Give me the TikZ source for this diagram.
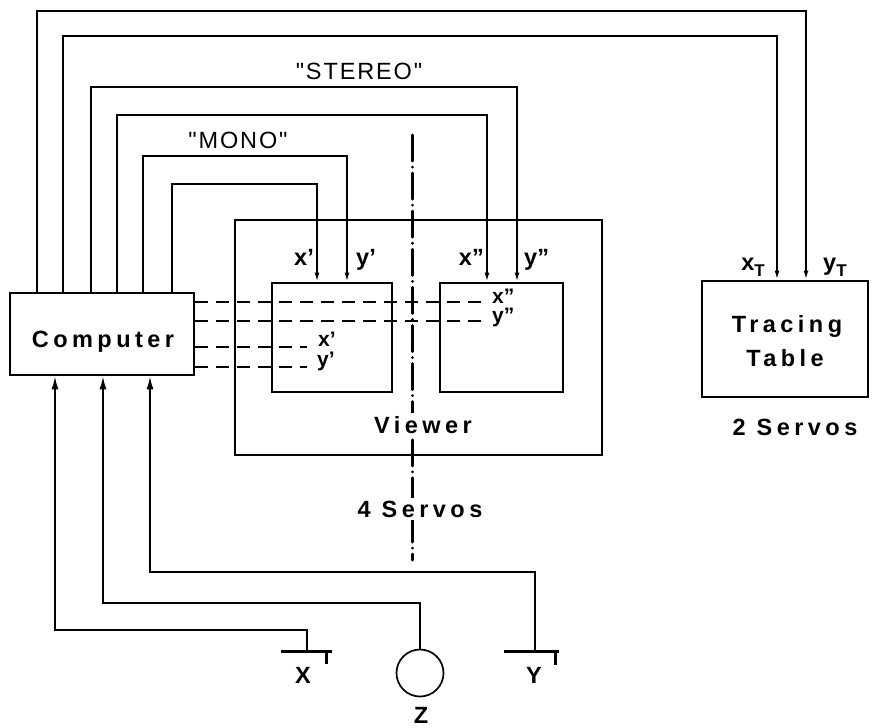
\documentclass[tikz,border=0pt]{standalone}
\usepackage{fontspec}
\setmainfont{Liberation Sans}
\newfontfamily\lblfont[LetterSpace=19]{Liberation Sans}
\newfontfamily\quofont[LetterSpace=8]{Liberation Sans}
\usetikzlibrary{arrows.meta}
\tikzset{
  box/.style={draw, line width=2.8pt, inner sep=0pt},
  conn/.style={line width=1.7pt},
  smallarrow/.style={-{Latex[length=9pt,width=5pt]}},
  bigarrow/.style={-{Latex[length=13pt,width=7pt]}},
  dashc/.style={line width=2pt, dash pattern=on 13pt off 8pt},
  biglbl/.style={font=\lblfont\bfseries\fontsize{23.5}{27}\selectfont, inner sep=0pt},
  smlbl/.style={font=\bfseries\fontsize{23.5}{27}\selectfont, inner sep=0pt},
  inlbl/.style={font=\bfseries\fontsize{21}{24}\selectfont, inner sep=0pt},
  quo/.style={font=\quofont\fontsize{23.5}{27}\selectfont, inner sep=0pt},
  centerline/.style={line width=3pt, line cap=round, dash pattern=on 26pt off 6pt on 0.1pt off 6pt},
  symb/.style={line width=3pt},
}
\newcommand{\subT}{\raisebox{-6pt}{\fontsize{17}{17}\selectfont T}}
\begin{document}
\begin{tikzpicture}[x=1pt,y=-1pt]
\useasboundingbox (0,0) rectangle (873,728);

% boxes
\node[box, minimum width=184pt, minimum height=82pt] (comp) at (102,334) {};
\node[box, minimum width=367pt, minimum height=235pt] (viewer) at (418.5,337.5) {};
\node[box, minimum width=120pt, minimum height=109pt] (lscreen) at (332,337.5) {};
\node[box, minimum width=123pt, minimum height=109pt] (rscreen) at (501.5,337.5) {};
\node[box, minimum width=166pt, minimum height=116pt] (table) at (785,339) {};

% centre line
\coordinate (cl1) at (412,135);
\coordinate (cl2) at (412,560);
\draw[centerline] (cl1) -- (cl2);

% loops from computer top
\coordinate (t1) at (37,11);  \coordinate (u1) at (806,11);
\coordinate (t2) at (63,36);  \coordinate (u2) at (777,36);
\coordinate (t3) at (91,87);  \coordinate (u3) at (517,87);
\coordinate (t4) at (117,115); \coordinate (u4) at (487,115);
\coordinate (t5) at (143,156); \coordinate (u5) at (347,156);
\coordinate (t6) at (172,184); \coordinate (u6) at (317,184);
\draw[conn,smallarrow] (comp.north -| t1) -- (t1) -- (u1) -- (u1 |- table.north);
\draw[conn,smallarrow] (comp.north -| t2) -- (t2) -- (u2) -- (u2 |- table.north);
\draw[conn,smallarrow] (comp.north -| t3) -- (t3) -- (u3) -- (u3 |- rscreen.north);
\draw[conn,smallarrow] (comp.north -| t4) -- (t4) -- (u4) -- (u4 |- rscreen.north);
\draw[conn,smallarrow] (comp.north -| t5) -- (t5) -- (u5) -- (u5 |- lscreen.north);
\draw[conn,smallarrow] (comp.north -| t6) -- (t6) -- (u6) -- (u6 |- lscreen.north);

% dashed lines
\coordinate (d1) at (482,302);
\coordinate (d2) at (482,321);
\coordinate (d3) at (307,347);
\coordinate (d4) at (307,367);
\draw[dashc] (comp.east |- d1) -- (d1);
\draw[dashc] (comp.east |- d2) -- (d2);
\draw[dashc] (comp.east |- d3) -- (d3);
\draw[dashc] (comp.east |- d4) -- (d4);

% input devices
\coordinate (xin) at (307,651);
\coordinate (xb) at (307,630);
\coordinate (xa) at (55,630);
\coordinate (zb) at (420,603);
\coordinate (za) at (103,603);
\coordinate (yin) at (535,651);
\coordinate (yb) at (535,572);
\coordinate (ya) at (150,572);
\node[draw, circle, line width=1.7pt, minimum size=47pt, inner sep=0pt] (zc) at (420,673) {};
\draw[conn,bigarrow] (xin) -- (xb) -- (xa) -- (xa |- comp.south);
\draw[conn,bigarrow] (zc.north) -- (zb) -- (za) -- (za |- comp.south);
\draw[conn,bigarrow] (yin) -- (yb) -- (ya) -- (ya |- comp.south);
\draw[symb] (281,651) -- (332,651);
\draw[symb] (326,651) -- (326,664);
\draw[symb] (504,651) -- (559,651);
\draw[symb] (555,651) -- (555,665);

% labels
\node[quo, anchor=base] (stereo) at (359,79) {"STEREO"};
\node[quo, anchor=base] (mono) at (238,148) {"MONO"};
\node[biglbl, anchor=base] (tcomp) at (103,347) {Computer};
\node[biglbl, anchor=base, fill=white, inner sep=3pt] (tview) at (423,433) {Viewer};
\node[biglbl, anchor=base, fill=white, inner sep=3pt] (tservo4) at (420,517) {4 Servos};
\node[biglbl, anchor=base] (tservo2) at (795,435) {2 Servos};
\node[biglbl, anchor=base] (ttr) at (787,332) {Tracing};
\node[biglbl, anchor=base] (ttb) at (785,366) {Table};

\node[smlbl, anchor=base east] (lx1) at (314,265) {x’};
\node[smlbl, anchor=base west] (ly1) at (356,265) {y’};
\node[smlbl, anchor=base east] (lx2) at (484,265) {x”};
\node[smlbl, anchor=base west] (ly2) at (524,265) {y”};
\node[smlbl, anchor=base east] (lxt) at (765,270) {x\subT};
\node[smlbl, anchor=base west] (lyt) at (823,270) {y\subT};

\node[inlbl, anchor=base west] (ix1) at (318,346) {x’};
\node[inlbl, anchor=base west] (iy1) at (317,366) {y’};
\node[inlbl, anchor=base west] (ix2) at (492,303) {x”};
\node[inlbl, anchor=base west] (iy2) at (492,322) {y”};

\node[smlbl, anchor=base] (lX) at (303,683) {X};
\node[smlbl, anchor=base] (lY) at (534,683) {Y};
\node[smlbl, anchor=base] (lZ) at (421,723) {Z};
\end{tikzpicture}
\end{document}
